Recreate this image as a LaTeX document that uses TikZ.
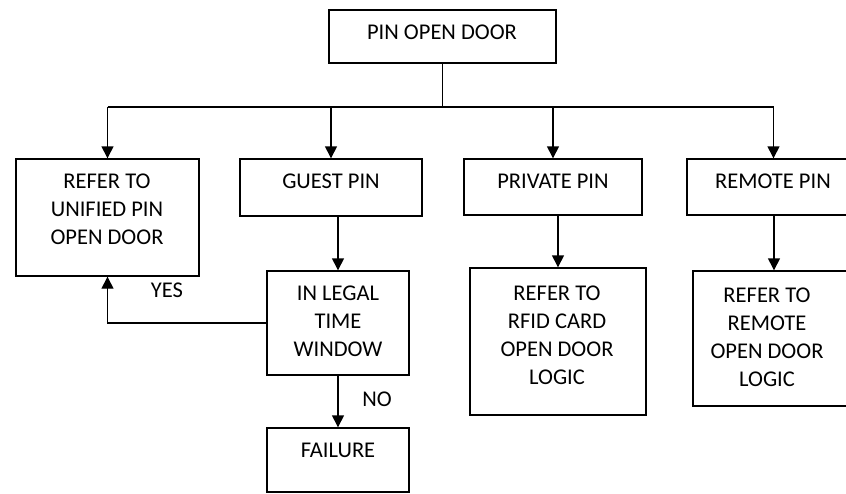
\documentclass[tikz,border=0pt]{standalone}
\usepackage{fontspec}
\setmainfont{Carlito}
\usetikzlibrary{arrows.meta}
\begin{document}
\begin{tikzpicture}[x=1pt,y=-1pt,
  box/.style={draw,line width=1.4pt,rectangle,inner sep=0pt},
  txt/.style={inner sep=0pt,align=center,anchor=north,font=\fontsize{22.5}{27.8}\selectfont},
  lbl/.style={inner sep=0pt,anchor=base,font=\fontsize{22.5}{27.8}\selectfont},
  arr/.style={line width=1.4pt,-{Triangle[length=12pt,width=12pt]}},
  ln/.style={line width=1.4pt}]
\useasboundingbox (0,0) rectangle (846,493);
\clip (0,0) rectangle (846,493);
% boxes
\node[box,minimum width=227pt,minimum height=53pt] (top) at (442.5,36.5) {};
\node[box,minimum width=183pt,minimum height=117pt] (unified) at (107.5,217.5) {};
\node[box,minimum width=182pt,minimum height=57pt] (guest) at (331,187.5) {};
\node[box,minimum width=178pt,minimum height=56pt] (private) at (553,187) {};
\node[box,minimum width=173pt,minimum height=56pt] (remote) at (773.5,187) {};
\node[box,minimum width=142pt,minimum height=104pt] (legal) at (338,323) {};
\node[box,minimum width=142pt,minimum height=64pt] (failure) at (338,460) {};
\node[box,minimum width=176pt,minimum height=147pt] (rfid) at (558,341.5) {};
\node[box,minimum width=162pt,minimum height=135pt] (rlogic) at (774,338.5) {};
% texts
\node[txt] (ttop) at (442,25) {PIN OPEN DOOR};
\node[txt] (tunified) at (107,174) {REFER TO\\UNIFIED PIN\\OPEN DOOR};
\node[txt] (tguest) at (331,174) {GUEST PIN};
\node[txt] (tprivate) at (553,174) {PRIVATE PIN};
\node[txt] (tremote) at (773,174) {REMOTE PIN};
\node[txt] (tlegal) at (338,286) {IN LEGAL\\TIME\\WINDOW};
\node[txt] (tfailure) at (338,443) {FAILURE};
\node[txt] (trfid) at (557,286) {REFER TO\\RFID CARD\\OPEN DOOR\\LOGIC};
\node[txt] (trlogic) at (767,288) {REFER TO\\REMOTE\\OPEN DOOR\\LOGIC};
\node[lbl] (yes) at (167,297) {YES};
\node[lbl] (no) at (377,406) {NO};
% connectors
\coordinate (bus) at (442,107);
\draw[ln] (top.south) -- (top.south |- bus);
\draw[ln] (unified.north |- bus) -- (remote.north |- bus);
\draw[arr] (unified.north |- bus) -- (unified.north);
\draw[arr] (guest.north |- bus) -- (guest.north);
\draw[arr] (private.north |- bus) -- (private.north);
\draw[arr] (remote.north |- bus) -- (remote.north);
\draw[arr] (legal.north |- guest.south) -- (legal.north);
\draw[arr] (rfid.north |- private.south) -- (rfid.north);
\draw[arr] (rlogic.north |- remote.south) -- (rlogic.north);
\draw[arr] (legal.south) -- (failure.north);
\draw[arr] (legal.west) -| (unified.south);
\end{tikzpicture}
\end{document}
